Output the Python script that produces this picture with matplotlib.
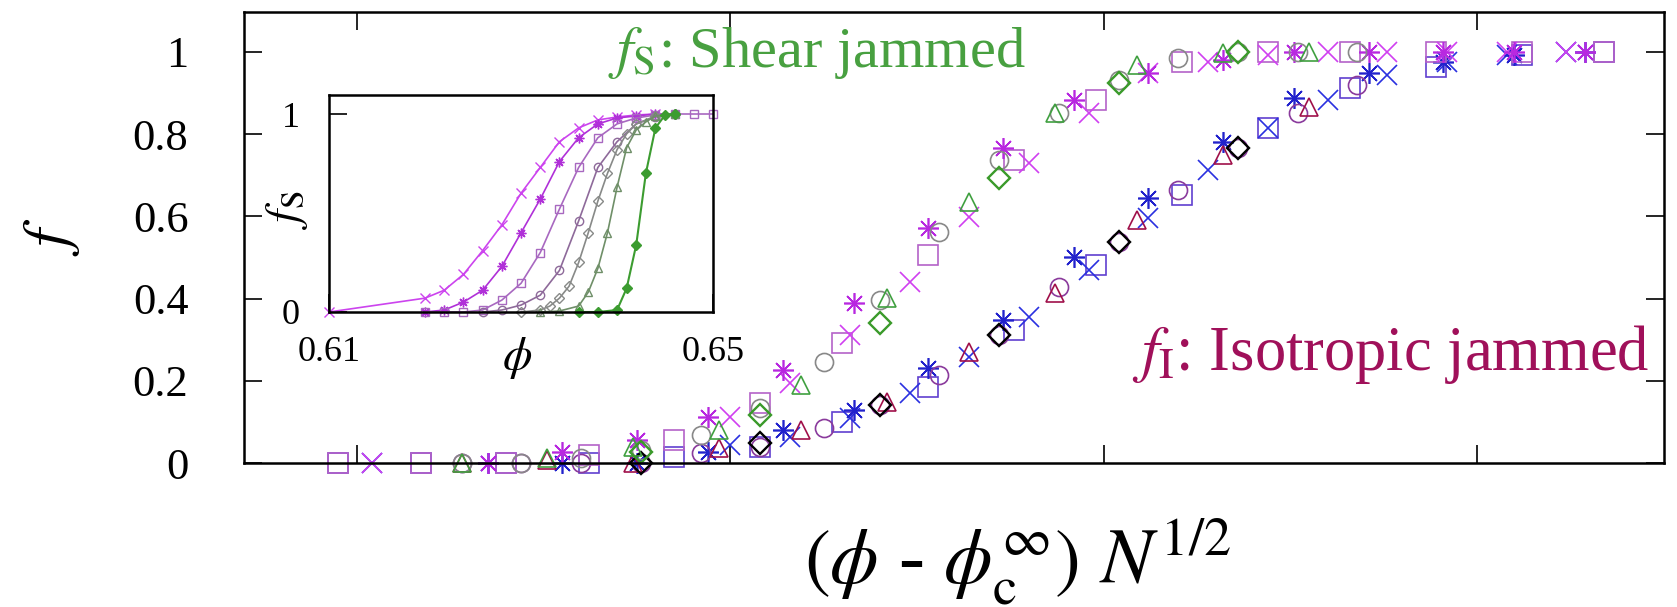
import matplotlib
matplotlib.use('Agg')
import matplotlib.pyplot as plt

plt.rcParams['font.family'] = 'Liberation Serif'
plt.rcParams['mathtext.fontset'] = 'stix'

# ~ main panel, one marker type per system size
# ~ x = (phi - phi_c) N^1/2 , fs = shear jammed fraction , fi = isotropic jammed fraction
sq_x = [-1.05, -0.83, -0.60, -0.38, -0.15, 0.08, 0.30, 0.53, 0.76, 0.98, 1.21, 1.44, 1.66, 1.89, 2.12, 2.34]
sq_fs = [0, 0, 0, 0.02, 0.056, 0.146, 0.292, 0.506, 0.737, 0.883, 0.976, 1.0, 1.0, 1.0, 1.0, 1.0]
sq_fi = [0, 0, 0, 0, 0.015, 0.039, 0.10, 0.185, 0.324, 0.482, 0.652, 0.815, 0.912, 0.964, 0.993, 1.0]

cr_x = [-0.96, 0.0, 0.16, 0.32, 0.48, 0.64, 0.80, 0.96, 1.12, 1.28, 1.44, 1.60, 1.76, 1.92, 2.08, 2.24]
cr_fs = [0, 0.112, 0.195, 0.311, 0.44, 0.599, 0.73, 0.852, 0.949, 0.976, 0.993, 1.0, 1.0, 1.0, 1.0, 1.0]
cr_fi = [0, 0.044, 0.063, 0.109, 0.17, 0.258, 0.355, 0.47, 0.596, 0.713, 0.815, 0.883, 0.944, 0.976, 0.993, 1.0]

as_x = [-0.65, -0.45, -0.25, -0.06, 0.14, 0.33, 0.53, 0.73, 0.92, 1.12, 1.32, 1.51, 1.71, 1.91, 2.10, 2.29]
as_fs = [0, 0.027, 0.056, 0.112, 0.226, 0.389, 0.572, 0.766, 0.883, 0.949, 0.981, 1.0, 1.0, 1.0, 1.0, 1.0]
as_fi = [0, 0, 0, 0.027, 0.08, 0.129, 0.231, 0.348, 0.501, 0.645, 0.781, 0.888, 0.949, 0.976, 0.993, 1.0]

ci_x = [-0.72, -0.56, -0.40, -0.24, -0.08, 0.08, 0.25, 0.40, 0.56, 0.72, 0.88, 1.04, 1.20, 1.36, 1.52, 1.68]
ci_fs = [0, 0, 0.012, 0.032, 0.068, 0.134, 0.246, 0.397, 0.562, 0.737, 0.852, 0.932, 0.985, 1.0, 1.0, 1.0]
ci_fi = [0, 0, 0, 0, 0.024, 0.039, 0.085, 0.141, 0.214, 0.311, 0.428, 0.538, 0.664, 0.766, 0.852, 0.92]

tr_x = [-0.72, -0.49, -0.26, -0.03, 0.19, 0.42, 0.64, 0.87, 1.09, 1.32, 1.55]
tr_fs = [0, 0.012, 0.039, 0.080, 0.19, 0.401, 0.635, 0.852, 0.968, 0.998, 1.0]
tr_fi = [0, 0.007, 0, 0.036, 0.08, 0.148, 0.27, 0.414, 0.591, 0.749, 0.866]

di_x = [-0.24, 0.08, 0.40, 0.72, 1.04, 1.36]
di_fs = [0.027, 0.117, 0.341, 0.693, 0.925, 1.0]
di_fi = [0, 0.049, 0.141, 0.311, 0.538, 0.766]

# ~ inset: fs against phi for each system size
c1_phi = [0.610, 0.620, 0.622, 0.624, 0.626, 0.628, 0.630, 0.632, 0.634, 0.636, 0.638, 0.640, 0.642, 0.644]
c1_fs = [0, 0.07, 0.11, 0.19, 0.31, 0.44, 0.60, 0.73, 0.86, 0.93, 0.97, 0.985, 0.995, 1.0]
c2_phi = [0.620, 0.622, 0.624, 0.626, 0.628, 0.630, 0.632, 0.634, 0.636, 0.638, 0.640, 0.642, 0.644, 0.646]
c2_fs = [0, 0.01, 0.05, 0.11, 0.23, 0.40, 0.57, 0.76, 0.88, 0.95, 0.98, 0.99, 1.0, 1.0]
c3_phi = [0.620, 0.622, 0.624, 0.626, 0.628, 0.630, 0.632, 0.634, 0.636, 0.638, 0.640, 0.642, 0.644, 0.646, 0.648, 0.650]
c3_fs = [0, 0, 0, 0.01, 0.06, 0.145, 0.30, 0.52, 0.73, 0.88, 0.95, 0.98, 0.995, 1.0, 1.0, 1.0]
c4_phi = [0.626, 0.628, 0.630, 0.632, 0.634, 0.636, 0.638, 0.640, 0.642, 0.644, 0.646]
c4_fs = [0, 0.01, 0.035, 0.085, 0.21, 0.46, 0.73, 0.86, 0.95, 0.985, 1.0]
c5_phi = [0.630, 0.632, 0.633, 0.634, 0.635, 0.636, 0.637, 0.638, 0.639, 0.640, 0.641, 0.642, 0.644, 0.646]
c5_fs = [0, 0.01, 0.03, 0.07, 0.13, 0.25, 0.40, 0.56, 0.70, 0.82, 0.90, 0.95, 0.99, 1.0]
c6_phi = [0.632, 0.634, 0.636, 0.637, 0.638, 0.639, 0.640, 0.641, 0.642, 0.643, 0.644, 0.646]
c6_fs = [0, 0.005, 0.03, 0.10, 0.22, 0.40, 0.63, 0.83, 0.92, 0.96, 0.99, 1.0]
c7_phi = [0.636, 0.638, 0.640, 0.641, 0.642, 0.643, 0.644, 0.645, 0.646]
c7_fs = [0, 0, 0.01, 0.12, 0.34, 0.70, 0.93, 0.995, 1.0]

fig = plt.figure(figsize=(16.77, 6.07), dpi=100)
ax = fig.add_axes([0.1455, 0.2372, 0.8467, 0.7430])

def pts(x, y, m, c, ms, mew=1.2):
    ax.plot(x, y, ls='none', marker=m, ms=ms, mfc='none', mec=c, mew=mew, clip_on=False)

star = (8, 2, 0)
# isotropic jammed
pts(sq_x, sq_fi, 's', '#6040d0', 15)
pts(cr_x, cr_fi, 'x', '#2a30e0', 15)
pts(as_x, as_fi, star, '#2222cc', 15)
pts(ci_x, ci_fi, 'o', '#8a3a9c', 13)
pts(tr_x, tr_fi, '^', '#a0104a', 13)
pts(di_x, di_fi, 'D', 'black', 11, 1.7)
# shear jammed
pts(sq_x, sq_fs, 's', '#b462c8', 15)
pts(cr_x, cr_fs, 'x', '#d040f0', 15)
pts(as_x, as_fs, star, '#b828e0', 15)
pts(ci_x, ci_fs, 'o', '#888888', 13)
pts(tr_x, tr_fs, '^', '#40a040', 13)
pts(di_x, di_fs, 'D', '#3a9a2a', 11, 1.7)

ax.set_xlim(-1.303, 2.501)
ax.set_ylim(0, 1.097)
ax.set_xticks([-1, 0, 1, 2])
ax.set_xticklabels([])
ax.set_yticks([0, 0.2, 0.4, 0.6, 0.8, 1.0])
ax.set_yticklabels(['0', '0.2', '0.4', '0.6', '0.8', '1'])
ax.tick_params(direction='in', length=13, width=1.2, top=True, right=True, labelsize=32, pad=40)
for s in ax.spines.values():
    s.set_linewidth(1.8)

fig.text(0.031, 0.61, r'$f$', fontsize=46, rotation=90, ha='center', va='center')
fig.text(0.607, 0.038, r'$(\phi$ - $\phi_{\mathrm{c}}^{\infty})$ $N^{1/2}$', fontsize=56, ha='center', va='baseline')
fig.text(0.3626, 0.8896, r'$f_{\mathrm{S}}$: Shear jammed', fontsize=42, color='#48a040', ha='left', va='baseline')
fig.text(0.675, 0.3904, r'$f_{\mathrm{I}}$: Isotropic jammed', fontsize=45, color='#a0105a', ha='left', va='baseline')

# inset
ins = fig.add_axes([0.1962, 0.4860, 0.2290, 0.3575])
ins.plot(c1_phi, c1_fs, '-x', color='#cc44ee', ms=7, lw=1.2, clip_on=False)
ins.plot(c2_phi, c2_fs, '-', marker=star, color='#b030d8', ms=7, lw=1.2, clip_on=False)
ins.plot(c3_phi, c3_fs, '-s', color='#a868c0', ms=6, mfc='none', lw=1.2, clip_on=False)
ins.plot(c4_phi, c4_fs, '-o', color='#8e6a9a', ms=6, mfc='none', lw=1.2, clip_on=False)
ins.plot(c5_phi, c5_fs, '-D', color='#888a88', ms=5, mfc='none', lw=1.2, clip_on=False)
ins.plot(c6_phi, c6_fs, '-^', color='#6f8f68', ms=6, mfc='none', lw=1.2, clip_on=False)
ins.plot(c7_phi, c7_fs, '-D', color='#3c9c30', ms=5, lw=1.5, clip_on=False)
ins.set_xlim(0.61, 0.65)
ins.set_ylim(0, 1.096)
ins.set_xticks([0.61, 0.65])
ins.set_xticklabels(['0.61', '0.65'])
ins.set_yticks([0, 1])
ins.set_yticklabels(['0', '1'])
ins.tick_params(direction='in', length=13, width=1.2, labelsize=26)
ins.tick_params(axis='y', pad=21)
ins.tick_params(axis='x', pad=17)
ins.text(0.49, -0.21, r'$\phi$', fontsize=34, ha='center', va='center', transform=ins.transAxes)
ins.text(-0.11, 0.47, r'$f_{\mathrm{S}}$', fontsize=34, rotation=90, ha='center', va='center', transform=ins.transAxes)
for s in ins.spines.values():
    s.set_linewidth(1.8)

fig.savefig('out.png', dpi=100)
